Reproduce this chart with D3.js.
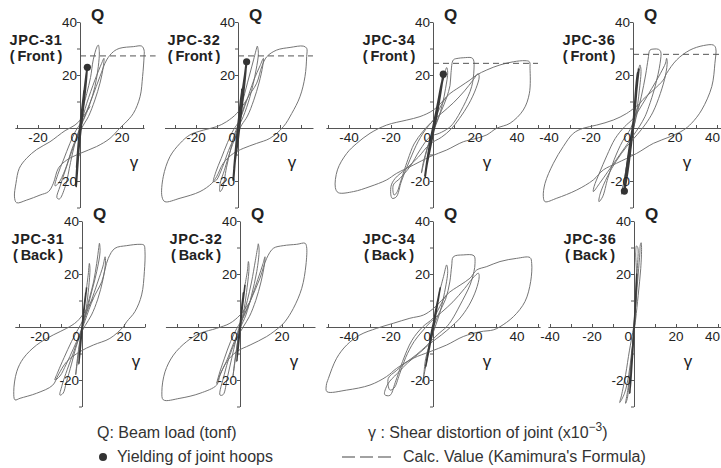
<!DOCTYPE html>
<html><head><meta charset="utf-8">
<script src="https://cdn.jsdelivr.net/npm/d3@7/dist/d3.min.js"></script>
<style>body{margin:0;background:#fff}svg text{font-family:"Liberation Sans",Arial,Helvetica,sans-serif}</style>
</head><body>
<svg id="c" width="721" height="468"></svg>
<script>
// ---------- DATA (γ in x10^-3, Q in tonf) ----------
const specimens = ["JPC-31","JPC-32","JPC-34","JPC-36"];
const faces = ["Front","Back"];
const qTicks = [-30,-20,-10,0,10,20,30,40];
const qLabels = [40,20,-20];
const gammaLabelsNarrow = [-20,0,20];
const gammaLabelsWide = [-40,-20,0,20,40];
const gammaDomains = [[-31,30.5],[-35,35.7],[-51,51],[-46,45],[-32,30],[-35.5,35.7],[-51,51],[-41,42]];
const calcQ = [27.2,27.2,24.4,27.8];
const calcEnd = [36,35.7,50,45];
const yieldPts = [[3.5,22.9],[4.1,25],[4.9,20.3],[-4.1,-23.8]];

const thick31F = [[0,0],[1.0,7],[2.0,14],[1.2,8],[0.2,1],[-0.8,-8],[-1.5,-15],[-0.6,-5],[0.4,3],[1.8,12],[3.0,20],[3.5,22.9],[2.4,14],[1,4],[-0.4,-6],[-1.3,-14],[-1.9,-22],[-1,-12],[0,-1],[1.2,7]];
const loop31F = [[1.2,7],[3.2,13],[5,19],[6.3,25.7],[8.0,30.5],[8.7,31.3],[9.2,28.8],[8.7,23.1],[7.1,15.6],[4.8,9.3],[2.4,4.3],[0.6,1.2],[-1.6,-3.3],[-4,-8.3],[-7.1,-15.8],[-10.3,-20.9],[-11.9,-21.8],[-10.6,-17.6],[-7.9,-12.1],[-4.8,-5.8],[-2,-1],[0.4,2],[3.2,9.3],[7.1,18.1],[10.3,24.4],[11.4,26.3],[11.1,23.1],[9.5,16.9],[7.1,10.6],[4,4.3],[1.6,1.1],[-1,-3],[-4,-9],[-7,-16],[-9.5,-22],[-11,-26.3],[-9.8,-26.8],[-7,-22],[-4.5,-13],[-2.5,-6],[0,0],[3,6],[6,12],[9.5,19.4],[12.7,25.7],[15.9,28.8],[19,30.1],[25.4,30.7],[29.4,30.9],[30.5,29.4],[30.5,26.9],[29.8,19.4],[28.6,11.8],[25.4,5.5],[21.4,1.8],[19,0],[14.3,-3.9],[7.9,-7],[0,-9.6],[-6.3,-12.1],[-10.3,-15.2],[-12.7,-20.9],[-15,-24],[-19,-25.3],[-25.4,-27.2],[-30.2,-28.2],[-31.2,-26],[-30.5,-20.9],[-28.9,-15.2],[-25.4,-11.4],[-20.6,-8.1],[-14.3,-5.2],[-7.1,-1],[-2.4,1.1],[0.8,3.6],[4.8,8.1]];

const thick32F = [[0,0],[1,8],[2,15],[1,6],[0,0],[-1,-8],[-1.8,-15],[-0.8,-6],[0.5,4],[2,13],[3.3,20],[4.1,25],[2.8,15],[1.2,4],[-0.3,-6],[-1.4,-12],[-2.2,-19.6],[-1.2,-10],[0,-1],[1.2,7]];
const loop32F = [[1.2,7],[3.5,14],[5.5,20],[7.5,26],[9.0,30.5],[9.2,30.9],[9.7,28.2],[8.6,21.9],[5.7,11.8],[2.5,4.3],[0.5,1],[-1.8,-3.5],[-4.5,-8.5],[-7.5,-15],[-10.2,-19.6],[-11.7,-20.3],[-10.5,-16.5],[-8,-11.5],[-5,-5.5],[-2,-0.5],[0.5,2.5],[4,10],[7.5,18],[10.5,23.5],[12.1,26.3],[11.8,23.5],[10,17],[7.5,10.5],[4.5,4.5],[1.8,1.2],[-1,-3],[-4,-9.5],[-6.5,-16],[-8.5,-21],[-8.6,-24],[-7.5,-23],[-5.5,-15],[-3.5,-8],[-1.5,-2],[0.5,2],[4.1,10.6],[8.9,16.9],[11.3,23.1],[13.7,26.9],[18.4,29.4],[24.8,30.4],[31.1,30.9],[32.7,30.1],[32.7,26.9],[31.9,19.4],[29.5,11.8],[25.6,5.5],[21.6,0.5],[15.2,-3.9],[8.9,-5.8],[2.5,-7.7],[-2.2,-9.6],[-7,-13.3],[-10.2,-18.4],[-12.5,-20.9],[-18.1,-24],[-27.6,-26.5],[-34.8,-27.8],[-36.2,-25.9],[-35.6,-18.4],[-32.4,-10.8],[-27.6,-5.8],[-22.9,-2.6],[-16.5,-0.8],[-10.2,0.5],[-5.4,2.4],[-0.6,5.5],[4.1,10.6]];

const thick34F = [[0,0],[1.5,6],[3,12],[4.5,18],[4.9,20.3],[3.5,13],[1.8,5],[0,-2],[-1.5,-8],[-3,-14],[-3.8,-18.4],[-2.5,-11],[-1,-4],[0.5,2],[2.5,10],[4.2,17],[5.5,20.5]];
const loop34F = [[5.5,20.5],[6.5,22.8],[7,21],[6,15],[4.5,9],[2.5,3.5],[0,-1.5],[-2.5,-7],[-4.6,-13],[-5.5,-17],[-4.5,-13.5],[-2.5,-7],[-0.5,-2],[1.5,2],[4,6.5],[6.5,11.5],[8.1,16],[8.6,21],[9.7,25.7],[12,26.3],[14.4,26.5],[18.4,26.5],[19.3,25.7],[19.5,21.9],[18.4,15.6],[14.4,8.1],[9.7,1.8],[7.3,-0.1],[3,-2],[-1.4,-3.3],[-6.2,-8.3],[-11,-14.6],[-15.7,-19],[-18.9,-21.5],[-18.5,-25.3],[-17,-24],[-15.7,-20.9],[-12,-12],[-9,-6],[-5,-1.5],[-1,2],[4,5.5],[9.7,9.5],[15,14],[19,18],[21.5,20.5],[22,19.3],[20.5,15],[17,9],[12.5,3.5],[8.5,-0.5],[4,-3.5],[-1.4,-6],[-7,-11],[-13,-15.5],[-18,-19],[-20,-22],[-19.5,-26.5],[-17.5,-26],[-15,-20],[-11,-12],[-7,-5],[-3,0],[0.2,3],[6.5,11.8],[12.9,15.6],[17.6,18.1],[20.8,20],[25.6,21.9],[31.9,23.8],[38.3,25],[43.8,25.4],[45.9,25],[46.2,22.5],[45.9,13.1],[43,6.8],[36.7,1.8],[30.3,-0.1],[25.6,-2.6],[20.8,-3.9],[14.4,-5.2],[6.5,-8.3],[-1.4,-10.8],[-9.4,-14],[-17.3,-17.1],[-22.1,-19.6],[-30,-22.1],[-37.9,-24],[-45.1,-24.4],[-46.5,-22.5],[-45.5,-15.8],[-41.1,-9.6],[-36.3,-5.8],[-30,-2],[-22.1,1.1],[-12.5,3],[-6.2,4.3],[0.2,6.8],[6.5,11.8]];

const thick36F = [[0,0],[0.8,8],[1.7,17],[2.3,21],[1.2,10],[0,0],[-1.2,-8],[-2.5,-16],[-3.5,-21],[-4.1,-23.8],[-2.8,-14],[-1.2,-5],[0,1],[1,9],[2,17],[2.8,22.5]];
const loop36F = [[2.8,22.5],[3.3,23.8],[3.8,22],[3,14],[1.5,5],[0,-1],[-1.5,-7],[-3,-14],[-4.5,-21],[-5.5,-25],[-4.5,-21],[-2.5,-12],[-0.5,-3],[1.5,4],[4,12],[6,20],[7.2,26],[8.1,29.4],[10,29.8],[12.1,29.7],[13.2,28.8],[12.9,24.4],[10.5,15.6],[7.5,8],[5.7,4.3],[3,0.5],[0,-3],[-4,-7.5],[-8,-12],[-12,-16.5],[-16,-21],[-18.9,-24],[-18.5,-22],[-16,-17],[-12.5,-10.5],[-8.5,-4],[-4,0.5],[0,3.5],[4.5,9],[9,15],[13,20.5],[15.5,24.5],[16,26.3],[16.3,25],[15.5,20],[13,13],[9.5,6],[6,1.5],[2,-2.5],[-3,-7],[-8,-12.5],[-12,-18],[-15.7,-25],[-16.2,-27.8],[-14.5,-26],[-12,-19],[-9,-12],[-5,-5],[-1,0],[3.3,9.3],[9.7,14.3],[14.4,18.1],[16,20.6],[20.8,25.7],[27.1,29.4],[33.5,31.1],[38.3,31.3],[39.4,30.1],[39,24.4],[37.5,15.6],[32.7,6.8],[27.9,1.8],[24,-0.8],[17.6,-3.3],[9.7,-5.8],[1.7,-9.6],[-7.8,-13.3],[-14.1,-15.8],[-18.9,-19.6],[-26.8,-23.4],[-36.3,-26.5],[-41.9,-27.8],[-42.7,-25.9],[-41.9,-20.9],[-37.9,-13.3],[-33.2,-7],[-28.4,-2],[-23.7,-0.1],[-17.3,1.1],[-9.4,3],[-3,5.5],[3.3,9.3]];

const thick31B = [[0,0],[0.8,6],[1.8,13],[0.8,5],[0,-1],[-0.8,-8],[-1.5,-14],[-0.6,-5],[0.4,3],[1.5,10],[2.2,15]];
const loop31B = [[2.2,15],[3,20],[3.5,24],[3.8,22],[3.2,15],[2,7],[0.5,1],[-1,-5],[-2.2,-12],[-3,-18],[-2,-12],[-0.5,-3],[1,3],[3.5,10.8],[5.5,17],[7,24],[8,30],[8.3,31.6],[8.6,28.4],[7,20.9],[3.8,10.8],[1.5,3.5],[-1,-2.5],[-4,-8],[-7.5,-14],[-10.5,-18.5],[-12.9,-20],[-11.5,-17],[-8.5,-11.5],[-5,-5.5],[-2,-1],[0.8,3],[4,9],[7.5,17],[10,23],[11,26.5],[11.2,24.5],[10,18],[7.5,10.5],[4.5,4.5],[1.5,0.5],[-1.5,-4],[-4,-9.5],[-7,-16],[-9.5,-22],[-10.5,-25.7],[-9,-25],[-7.5,-21],[-5,-14],[-3,-8],[-0.5,-2],[1.5,2.5],[5.4,10.8],[9.4,17.1],[12.5,25.9],[15.7,29.7],[21.3,30.7],[27.6,31.2],[29.5,30.9],[30,28.4],[29.7,20.9],[28.4,12.1],[25.2,5.8],[21.3,2],[19.7,0.1],[13.3,-4.3],[5.4,-6.8],[-1,-9.3],[-7.3,-13.1],[-11.3,-18.1],[-14,-22],[-21.6,-25],[-29.5,-26.9],[-31.9,-27.5],[-32.5,-24.4],[-31.1,-16.9],[-27.9,-11.8],[-21.6,-6.8],[-13.7,-3],[-7.3,-0.5],[-2.5,2],[1.4,5.8],[5.4,10.8]];

const thick32B = [[0,0],[0.8,7],[1.6,13],[0.6,4],[-0.5,-5],[-1.5,-13],[-0.7,-5],[0.4,3],[1.5,10],[2.4,16]];
const loop32B = [[2.4,16],[3.5,21],[4,24.7],[4.3,22.5],[3.4,15],[2,7],[0.4,1],[-1.2,-6],[-2.5,-13],[-3.4,-19],[-2.3,-12.5],[-0.8,-4],[1,2.5],[3.5,10],[5.5,17],[7.3,25],[8.5,30.5],[8.7,31.4],[9.1,29],[8,21],[5.5,12],[2.8,4.5],[0,-0.5],[-3,-6],[-6.5,-13],[-9.5,-18],[-11.1,-21.3],[-10,-18],[-7.5,-12],[-4.5,-5.5],[-1.5,-0.5],[1.5,3.5],[5,10],[8.5,18],[11,24],[11.9,26.5],[11.7,24],[10,17],[7.5,10],[4.5,4],[1.5,0],[-2,-5],[-5,-11],[-7.5,-18],[-9.5,-25.7],[-8,-25.5],[-6,-19],[-4,-12],[-2,-5],[0,1],[4.8,9.6],[9.5,18.4],[12.7,25.9],[15.9,29.7],[20.6,30.7],[27,31.2],[31,31.6],[31.7,30.3],[31.4,23.4],[29.4,14.6],[25.4,7],[21.4,2],[19,0.1],[12.7,-3.6],[4.8,-6.8],[-1.6,-9.3],[-6.3,-13.1],[-9.5,-18.1],[-11.1,-21.9],[-19,-25],[-28.6,-26.9],[-36.5,-27.5],[-37.2,-24.4],[-35.7,-16.9],[-31.7,-10.6],[-25.4,-5.5],[-19,-2.4],[-11.1,-0.5],[-4.8,1.4],[0,4.5],[4.8,9.6]];

const thick34B = [[0,0],[1,5],[2.5,11],[3.5,15],[2,8],[0.5,1],[-1,-5],[-2.5,-11],[-3.5,-15],[-2,-8],[-0.5,-1],[1.2,5],[3,13]];
const loop34B = [[3,13],[5,19],[6.5,23.4],[7,21],[5.5,13],[3.5,6],[1,0],[-1.5,-6],[-3.5,-12],[-4.6,-19.4],[-5,-21],[-3.5,-15],[-1.5,-6],[0.5,0.5],[3,5.5],[6,10.5],[8,17],[8.9,23],[9.7,26.5],[14.4,27.2],[19.5,26.9],[20,24],[19.5,20.9],[17.6,15.8],[12.9,8.3],[8.9,2.6],[6.5,0.1],[2,-3],[-3,-7],[-8,-10.5],[-13,-13.5],[-17.5,-16.5],[-21.3,-19.4],[-20.5,-23.8],[-18.5,-23],[-16,-18],[-13,-11.5],[-9,-5.5],[-5,-1.5],[-1,2],[4,5.5],[9.5,9.5],[15,14.5],[19,18.5],[21.6,20.3],[22,19],[20.5,14],[17,8],[12.5,3],[8.5,0],[4,-3],[-1,-6],[-6,-9.5],[-12,-13.5],[-17,-17.5],[-21.5,-21.5],[-23,-25.5],[-20.5,-25.8],[-18,-21],[-14.5,-13],[-10,-5],[-5,0],[0.2,3.5],[6.5,12.1],[12.9,15.8],[17.6,18.4],[20.8,21.5],[25.6,22.8],[31.9,24.7],[39.8,25.9],[46.2,26.2],[47,24],[46.5,17.1],[43.8,9.6],[38.3,3.9],[31.9,0.1],[28.7,-1.1],[22.4,-1.8],[14.4,-3.6],[6.5,-6.8],[-1.4,-9.3],[-9.4,-11.8],[-17.3,-15.6],[-22.1,-18.7],[-30,-21.9],[-41.1,-23.8],[-50.5,-24.4],[-50.8,-22],[-49.8,-19.4],[-45.9,-11.8],[-41.1,-6.8],[-34.8,-3],[-26.8,-0.5],[-18.9,1.4],[-11,3.3],[-4.6,4.5],[0.2,7],[6.5,12.1]];

const thick36B = [[0,0],[0.8,10],[1.3,20],[0.6,8],[-0.5,-8],[-1.5,-20],[-2,-25],[-1,-12],[0,0]];
const loop36B = [[0,0],[0.5,8],[1.2,20],[0.8,28],[1.2,30.6],[1.8,30],[1.6,22],[1,12],[0.5,4],[0,-2],[-1.2,-10],[-2.5,-18],[-4.5,-25],[-6.8,-28.5],[-6,-26],[-4,-18],[-2.2,-9],[-0.6,-2],[0,1],[1,10],[2,20],[2.8,28],[3,31],[3.4,31.8],[3.6,30],[3.2,22],[2,12],[0.8,3],[0,-2],[-1,-10],[-2,-18],[-3,-24],[-4,-28.8],[-3.2,-27],[-2.2,-20],[-1.2,-12],[0,-2],[0.6,4]];

const thickSets = [thick31F,thick32F,thick34F,thick36F,thick31B,thick32B,thick34B,thick36B];
const loopSets = [loop31F,loop32F,loop34F,loop36F,loop31B,loop32B,loop34B,loop36B];

// ---------- LAYOUT ----------
const W = 721;
const svg = d3.select("#c");
const PXG = 2.1, PXQ = 2.65;
const axisXs = [[80,238,433,633],[82,240,433,634]];
const axisYs = [128,327];
const TXT = "#222", LINE = "#6e6e6e", AX = "#555";

for (let row = 0; row < 2; row++) {
  for (let col = 0; col < 4; col++) {
    const idx = row*4 + col;
    const x0 = axisXs[row][col], y0 = axisYs[row];
    const dom = gammaDomains[idx];
    const x = d3.scaleLinear().domain(dom).range([x0 + dom[0]*PXG, x0 + dom[1]*PXG]);
    const y = d3.scaleLinear().domain([-30,40]).range([y0 + 30*PXQ, y0 - 40*PXQ]);
    const g = svg.append("g");

    const xt = d3.range(Math.ceil(dom[0]/10)*10, dom[1]+0.001, 10);
    const gx = g.append("g").attr("transform",`translate(0,${y0})`)
      .call(d3.axisTop(x).tickValues(xt).tickSize(3).tickSizeOuter(0).tickFormat(""));
    const gy = g.append("g").attr("transform",`translate(${x0},0)`)
      .call(d3.axisLeft(y).tickValues(qTicks).tickSize(3).tickSizeOuter(0).tickFormat(""));
    [gx,gy].forEach(a => { a.selectAll("path,line").attr("stroke",AX).attr("stroke-width",1); });

    const line = d3.line().x(d=>x(d[0])).y(d=>y(d[1])).curve(d3.curveCatmullRom.alpha(0.5));
    g.append("path").datum(loopSets[idx]).attr("d",line)
      .attr("fill","none").attr("stroke",LINE).attr("stroke-width",0.95).attr("stroke-linejoin","round");
    g.append("path").datum(thickSets[idx]).attr("d",line)
      .attr("fill","none").attr("stroke","#3a3a3a").attr("stroke-width",row===0?2.1:1.6).attr("stroke-linejoin","round");

    if (row === 0) {
      g.append("line").attr("x1",x(0)).attr("x2",x(calcEnd[col])).attr("y1",y(calcQ[col])).attr("y2",y(calcQ[col]))
        .attr("stroke","#555").attr("stroke-width",1).attr("stroke-dasharray","6,4");
      g.append("circle").attr("cx",x(yieldPts[col][0])).attr("cy",y(yieldPts[col][1])).attr("r",3.6).attr("fill","#333");
    }

    const labs = (dom[1]-dom[0] > 80) ? gammaLabelsWide : gammaLabelsNarrow;
    labs.forEach(v => {
      let px = x(v), anchor = "middle";
      if (v === 0) { px = x(0) - 2; anchor = "end"; }
      else if (px + 8 > W) { px = W - 1; anchor = "end"; }
      g.append("text").attr("x", px).attr("y", y0+14)
        .attr("text-anchor", anchor).attr("font-size",13.5).attr("fill",TXT).text(v);
    });
    qLabels.forEach(v => {
      g.append("text").attr("x", x0-3).attr("y", y(v)+5)
        .attr("text-anchor","end").attr("font-size",13.5).attr("fill",TXT).text(v);
    });

    g.append("text").attr("x",x0+17.5).attr("y",y0-107).attr("text-anchor","middle")
      .attr("font-size",17).attr("font-weight","bold").attr("fill",TXT).text("Q");
    g.append("text").attr("x",x0+54).attr("y",y0+40).attr("text-anchor","middle")
      .attr("font-size",17).attr("fill",TXT).text("γ");

    g.append("text").attr("x",x0-44).attr("y",y0-83).attr("text-anchor","middle")
      .attr("font-size",14.5).attr("font-weight","bold").attr("letter-spacing",0.6).attr("fill",TXT).text(specimens[col]);
    g.append("text").attr("x",x0-44).attr("y",y0-67).attr("text-anchor","middle")
      .attr("font-size",14.5).attr("font-weight","bold").attr("fill",TXT).text("(\u2009" + faces[row] + "\u2009)");
  }
}

// ---------- LEGEND ----------
const lg = svg.append("g").attr("font-size",16).attr("fill","#333");
lg.append("text").attr("x",97).attr("y",438).text("Q: Beam load (tonf)");
const t2 = lg.append("text").attr("x",368).attr("y",438);
t2.append("tspan").text("γ : Shear distortion of joint (x10");
t2.append("tspan").attr("dy",-7).attr("font-size",12).text("−3");
t2.append("tspan").attr("dy",7).text(")");
lg.append("circle").attr("cx",103).attr("cy",457).attr("r",4).attr("fill","#333");
lg.append("text").attr("x",117).attr("y",462).text("Yielding of joint hoops");
lg.append("line").attr("x1",342).attr("x2",392).attr("y1",457).attr("y2",457)
  .attr("stroke","#444").attr("stroke-width",1.2).attr("stroke-dasharray","13,5");
lg.append("text").attr("x",403).attr("y",462).text("Calc. Value (Kamimura's Formula)");
</script>
</body></html>
